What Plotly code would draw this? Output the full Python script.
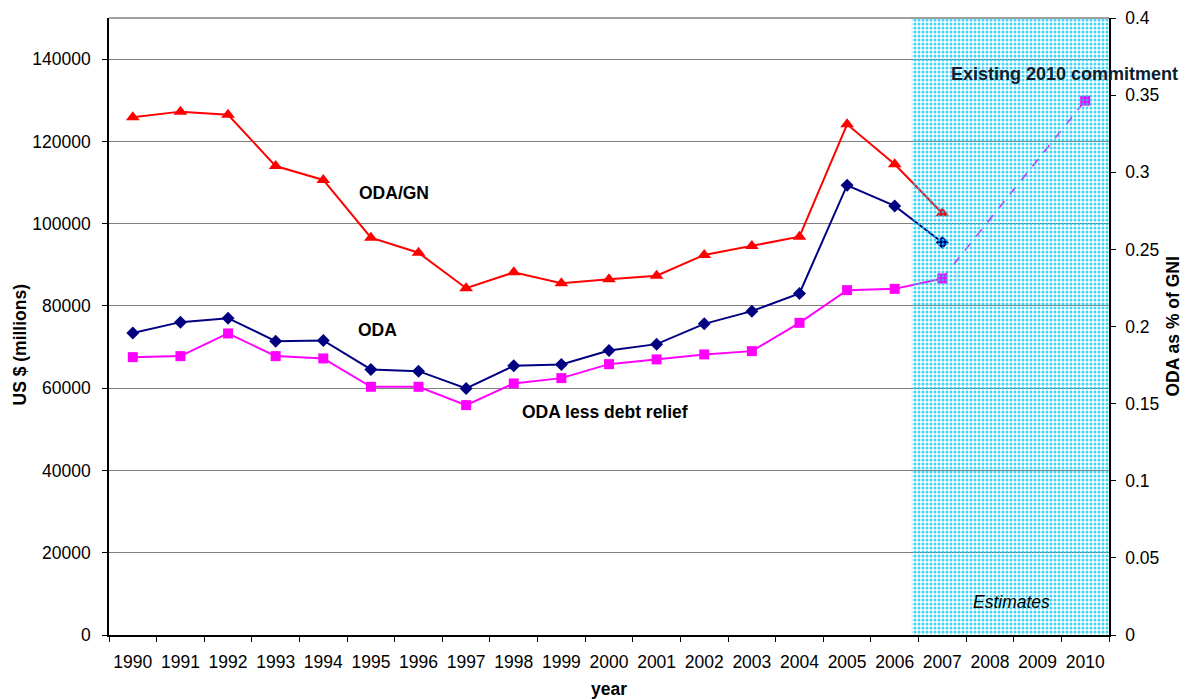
import plotly.graph_objects as go

years = [str(y) for y in range(1990, 2011)]
data_years = [str(y) for y in range(1990, 2008)]

oda = [73400, 76060, 77030, 71440, 71610, 64570, 64150, 59950, 65440, 65780,
       69180, 70710, 75650, 78730, 83030, 109350, 104320, 95430]
oda_less_debt = [67550, 67800, 73310, 67800, 67240, 60340, 60340, 55890, 61160, 62450,
                 65850, 67000, 68210, 69010, 75890, 83840, 84150, 86680]
oda_gni = [0.3356, 0.3393, 0.3373, 0.3040, 0.2950, 0.2576, 0.2478, 0.2248, 0.2351, 0.2280,
           0.2306, 0.2329, 0.2464, 0.2522, 0.2582, 0.3311, 0.3052, 0.2734]
commitment_year = "2010"
commitment_2010 = 129900

estimates_from = 16.36   # category-index position where the estimates band starts
estimates_to = 20.5

FONT = "Liberation Sans, Arial, sans-serif"
FS = 17.5

fig = go.Figure()

fig.add_trace(go.Scatter(
    x=data_years, y=oda_less_debt, mode="lines+markers", name="ODA less debt relief",
    line=dict(color="#FF00FF", width=2),
    marker=dict(symbol="square", size=10, color="#FF00FF"),
    xaxis="x", yaxis="y"))
fig.add_trace(go.Scatter(
    x=[data_years[-1], commitment_year], y=[oda_less_debt[-1], commitment_2010],
    mode="lines", line=dict(color="#FF00FF", width=1.5, dash="dash"),
    xaxis="x", yaxis="y", showlegend=False))
fig.add_trace(go.Scatter(
    x=[commitment_year], y=[commitment_2010], mode="markers",
    marker=dict(symbol="square", size=10, color="#FF00FF"),
    xaxis="x", yaxis="y", showlegend=False))
fig.add_trace(go.Scatter(
    x=data_years, y=oda, mode="lines+markers", name="ODA",
    line=dict(color="#000080", width=2),
    marker=dict(symbol="diamond", size=10, color="#000080"),
    xaxis="x", yaxis="y"))
fig.add_trace(go.Scatter(
    x=data_years, y=oda_gni, mode="lines+markers", name="ODA/GNI",
    line=dict(color="#FF0000", width=2),
    marker=dict(symbol="triangle-up", size=12, color="#FF0000"),
    xaxis="x", yaxis="y2"))

# Estimates band (patterned overlay)
fig.add_trace(go.Scatter(
    x=[estimates_from, estimates_to, estimates_to, estimates_from, estimates_from],
    y=[0, 0, 1, 1, 0], mode="none", fill="toself",
    fillcolor="rgba(0,0,0,0)",
    fillpattern=dict(shape=".", fgcolor="#10C8F0", bgcolor="rgba(255,255,255,0)",
                     size=4, solidity=0.45, fgopacity=0.8),
    xaxis="x3", yaxis="y3", hoverinfo="skip", showlegend=False))

axis_common = dict(showline=True, linecolor="black", linewidth=1.5,
                   ticks="outside", tickcolor="black", ticklen=5,
                   tickfont=dict(family=FONT, size=FS, color="black"),
                   zeroline=False, automargin=False)

# The page body has an 8px margin, so the figure is sized/placed to compensate.
fig.update_layout(
    width=1180, height=692,
    margin=dict(l=101, r=79, t=10, b=65, autoexpand=False),
    paper_bgcolor="white", plot_bgcolor="white",
    showlegend=False,
    xaxis=dict(type="category", categoryorder="array", categoryarray=years,
               range=[-0.5, 20.5], tickson="boundaries", showgrid=False,
               tickangle=0, ticklabelstandoff=10, **axis_common),
    yaxis=dict(range=[0, 150000], tick0=0, dtick=20000, showgrid=True,
               gridcolor="#808080", gridwidth=1, tickformat="d",
               ticklabelstandoff=8, **axis_common),
    yaxis2=dict(overlaying="y", side="right", range=[0, 0.4], tick0=0, dtick=0.05,
                showgrid=False, ticklabelstandoff=6, **axis_common),
    xaxis3=dict(overlaying="x", range=[-0.5, 20.5], visible=False),
    yaxis3=dict(overlaying="y", range=[0, 1], visible=False),
    shapes=[dict(type="line", xref="paper", yref="paper", x0=0, x1=1, y0=1, y1=1,
                 line=dict(color="#808080", width=1.5))],
)

bold = dict(family=FONT, size=FS, color="black")
ann = [
    dict(text="<b>ODA/GN</b>", x=0.248, y=0.716, xanchor="left", yanchor="middle", font=bold),
    dict(text="<b>ODA</b>", x=0.247, y=0.494, xanchor="left", yanchor="middle", font=bold),
    dict(text="<b>ODA less debt relief</b>", x=0.411, y=0.362, xanchor="left", yanchor="middle", font=bold),
    dict(text="<b>Existing 2010 commitment</b>", x=0.840, y=0.909, xanchor="left", yanchor="middle",
         font=dict(family=FONT, size=18, color="#0a2030")),
    dict(text="<i>Estimates</i>", x=0.862, y=0.054, xanchor="left", yanchor="middle",
         font=dict(family=FONT, size=FS, color="black")),
    dict(text="<b>US $ (millions)</b>", x=-0.0885, y=0.47, xanchor="center", yanchor="middle",
         textangle=-90, font=bold),
    dict(text="<b>ODA as % of GNI</b>", x=1.063, y=0.5, xanchor="center", yanchor="middle",
         textangle=-90, font=bold),
    dict(text="<b>year</b>", x=0.5, y=-0.0875, xanchor="center", yanchor="middle", font=bold),
]
for a in ann:
    a.update(xref="paper", yref="paper", showarrow=False)
fig.update_layout(annotations=ann)

fig.write_html("out.html")
